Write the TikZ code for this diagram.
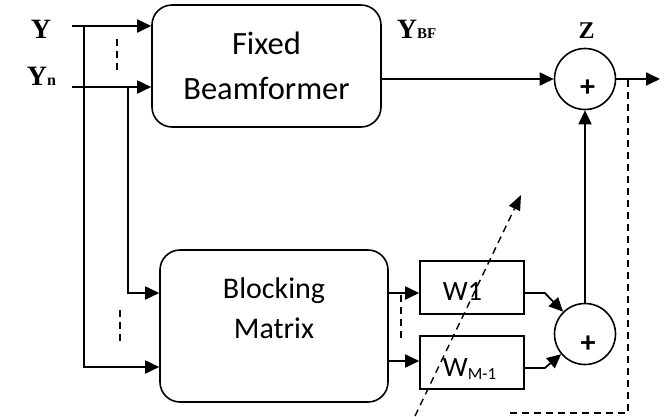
\documentclass[tikz,border=0pt]{standalone}
\usepackage{fontspec}
\setmainfont{Liberation Serif}
\newfontfamily\calfont{Carlito}
\usetikzlibrary{arrows.meta,calc}
\begin{document}
\begin{tikzpicture}[x=1pt,y=-1pt,
  line width=1.8pt,
  arr/.style={-{Triangle[length=14pt,width=13pt]}},
  rbox/.style={draw,rounded corners=20pt,line width=1.6pt,inner sep=0pt},
  wbox/.style={draw,rectangle,line width=1.6pt,minimum width=104pt,minimum height=53pt,inner sep=0pt},
  sumnode/.style={draw,circle,line width=1.6pt,minimum size=61pt,inner sep=0pt},
  boxtext/.style={font=\calfont\fontsize{32.5}{45}\selectfont,align=center},
  wtext/.style={font=\calfont\fontsize{28}{28}\selectfont,anchor=base west,inner sep=0pt},
  plustext/.style={font=\calfont\bfseries\fontsize{30}{30}\selectfont,inner sep=0pt},
  lab/.style={font=\bfseries\fontsize{28}{28}\selectfont,inner sep=0pt},
  dsh/.style={dash pattern=on 7pt off 5pt,line width=1.4pt}
]
\useasboundingbox (0,0) rectangle (667,416);

% boxes
\node[rbox,minimum width=229pt,minimum height=122pt,boxtext] (fb) at (266.5,66) {Fixed\\Beamformer};
\node[rbox,minimum width=228pt,minimum height=152pt] (bm) at (274,326) {};
\node[font=\calfont\fontsize{30}{40}\selectfont,align=center] (bmt) at (274,308) {Blocking\\Matrix};
\node[wbox] (w1) at (472,287.5) {};
\node[wbox] (wm) at (472,362.5) {};
\node[wtext] (w1t) at (442,300) {W1};
\node[wtext] (wmt) at (442,376) {W\raisebox{-3pt}{\fontsize{17}{17}\selectfont M-1}};

% summing nodes
\node[sumnode] (c1) at (585,79) {};
\node[sumnode] (c2) at (585,334) {};
\node[plustext] (p1) at (587.5,88) {+};
\node[plustext] (p2) at (588,344) {+};

% labels
\node[lab,anchor=base] (ylab) at (41,38) {Y};
\node[lab,anchor=base west] (ynlab) at (26,85) {Y{\fontsize{16}{16}\selectfont n}};
\node[lab,anchor=base west] (ybflab) at (396,38) {Y{\fontsize{15}{15}\selectfont BF}};
\node[font=\bfseries\fontsize{24}{24}\selectfont,inner sep=0pt,anchor=base] (zlab) at (586.5,38) {Z};

% inputs
\coordinate (yin) at (72,26);
\coordinate (ynin) at (72,87);
\draw[arr] (yin) -- (yin -| fb.west);
\draw[arr] (ynin) -- (ynin -| fb.west);
\coordinate (j1) at (84,26);
\coordinate (b1) at (84,367);
\draw[arr] (j1) -- (b1) -- (b1 -| bm.west);
\coordinate (j2) at (128,87);
\coordinate (b2) at (128,293);
\draw[arr] (j2) -- (b2) -- (b2 -| bm.west);

% short dashed marks
\coordinate (d1a) at (117,39);
\coordinate (d1b) at (117,75);
\draw[dsh] (d1a) -- (d1b);
\coordinate (d2a) at (120,310);
\coordinate (d2b) at (120,343);
\draw[dsh] (d2a) -- (d2b);
\coordinate (d3a) at (401,295);
\coordinate (d3b) at (401,338);
\draw[dsh] (d3a) -- (d3b);

% blocking matrix to weights
\draw[arr] (bm.east |- 0,293) -- (w1.west |- 0,293);
\draw[arr] (bm.east |- 0,361) -- (wm.west |- 0,361);
\draw[arr] (w1.east |- 0,293) -- ++(20,0) -- (c2);
\draw[arr] (wm.east |- 0,368) -- ++(20,0) -- (c2);

% sums
\draw[arr] (c2.north) -- (c1.south);
\draw[arr] (fb.east |- c1) -- (c1.west);
\coordinate (out) at (660,79);
\draw[arr] (c1.east) -- (out);

% feedback
\coordinate (fa) at (628,80);
\coordinate (fbk) at (628,413);
\coordinate (fc) at (510,413);
\draw[dsh] (fa) -- (fbk) -- (fc);
\coordinate (ga) at (415,416);
\coordinate (gb) at (521,195);
\draw[dsh,-{Triangle[length=15pt,width=12pt]}] (ga) -- (gb);
\end{tikzpicture}
\end{document}
